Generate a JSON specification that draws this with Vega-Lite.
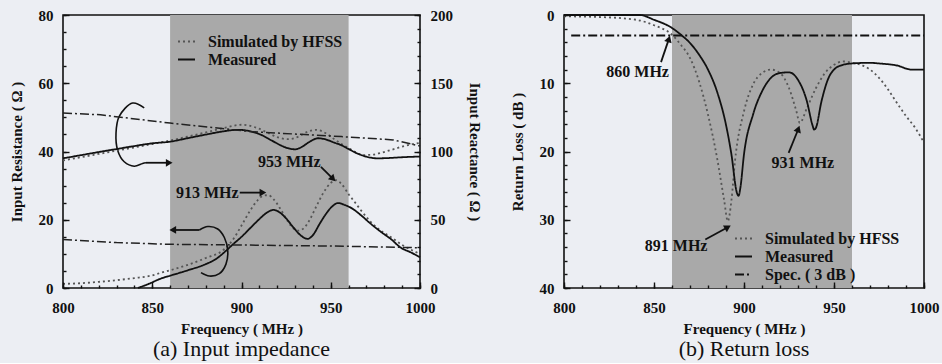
{
  "$schema": "https://vega.github.io/schema/vega-lite/v6.json",
  "background": "#ECEEF3",
  "padding": {"left": 8, "top": 7, "right": 5, "bottom": 2},
  "bounds": "flush",
  "spacing": 144,
  "resolve": {"scale": {"color": "independent", "strokeDash": "independent"}, "legend": {"color": "independent", "strokeDash": "independent"}},
  "config": {
    "view": {"stroke": "#111", "strokeWidth": 1.6},
    "font": "Liberation Serif",
    "axis": {
      "labelFont": "Liberation Serif", "labelFontWeight": "bold", "labelFontSize": 15, "labelColor": "#111",
      "titleFont": "Liberation Serif", "titleFontWeight": "bold", "titleFontSize": 15, "titleColor": "#111",
      "domain": false, "tickColor": "#111", "tickWidth": 1.4, "tickOpacity": 1,
      "grid": false, "labelFlush": false, "labelOverlap": false
    },
    "legend": {
      "labelFont": "Liberation Serif", "labelFontWeight": "bold", "labelFontSize": 16, "labelColor": "#111",
      "symbolType": "stroke", "symbolStrokeWidth": 2, "padding": 0, "rowPadding": 0, "labelOffset": 12
    }
  },
  "datasets": {
    "res": [
      {"f":800,"R":1.2,"s":"Simulated by HFSS"},{"f":810,"R":1.4,"s":"Simulated by HFSS"},{"f":820,"R":1.8,"s":"Simulated by HFSS"},{"f":830,"R":2.3,"s":"Simulated by HFSS"},{"f":840,"R":2.9,"s":"Simulated by HFSS"},{"f":850,"R":3.7,"s":"Simulated by HFSS"},{"f":855,"R":4.5,"s":"Simulated by HFSS"},{"f":860,"R":5.2,"s":"Simulated by HFSS"},{"f":870,"R":6.8,"s":"Simulated by HFSS"},{"f":880,"R":8.8,"s":"Simulated by HFSS"},{"f":890,"R":11.2,"s":"Simulated by HFSS"},{"f":895,"R":14.0,"s":"Simulated by HFSS"},{"f":900,"R":18.3,"s":"Simulated by HFSS"},{"f":905,"R":22.8,"s":"Simulated by HFSS"},{"f":909,"R":25.7,"s":"Simulated by HFSS"},{"f":912,"R":27.0,"s":"Simulated by HFSS"},{"f":915,"R":27.2,"s":"Simulated by HFSS"},{"f":918,"R":26.0,"s":"Simulated by HFSS"},{"f":922,"R":23.0,"s":"Simulated by HFSS"},{"f":926,"R":19.5,"s":"Simulated by HFSS"},{"f":929,"R":17.5,"s":"Simulated by HFSS"},{"f":932,"R":16.8,"s":"Simulated by HFSS"},{"f":935,"R":17.6,"s":"Simulated by HFSS"},{"f":938,"R":19.8,"s":"Simulated by HFSS"},{"f":942,"R":24.0,"s":"Simulated by HFSS"},{"f":946,"R":28.0,"s":"Simulated by HFSS"},{"f":950,"R":30.8,"s":"Simulated by HFSS"},{"f":953,"R":31.6,"s":"Simulated by HFSS"},{"f":956,"R":30.5,"s":"Simulated by HFSS"},{"f":960,"R":27.5,"s":"Simulated by HFSS"},{"f":964,"R":24.8,"s":"Simulated by HFSS"},{"f":967,"R":22.7,"s":"Simulated by HFSS"},{"f":972,"R":19.6,"s":"Simulated by HFSS"},{"f":977,"R":17.2,"s":"Simulated by HFSS"},{"f":984,"R":14.8,"s":"Simulated by HFSS"},{"f":990,"R":12.6,"s":"Simulated by HFSS"},{"f":995,"R":11.2,"s":"Simulated by HFSS"},{"f":1000,"R":10.0,"s":"Simulated by HFSS"},
      {"f":842,"R":0.0,"s":"Measured"},{"f":848,"R":1.2,"s":"Measured"},{"f":855,"R":2.8,"s":"Measured"},{"f":860,"R":3.6,"s":"Measured"},{"f":870,"R":5.2,"s":"Measured"},{"f":880,"R":7.0,"s":"Measured"},{"f":886,"R":8.6,"s":"Measured"},{"f":890,"R":10.3,"s":"Measured"},{"f":895,"R":12.7,"s":"Measured"},{"f":900,"R":15.0,"s":"Measured"},{"f":905,"R":17.6,"s":"Measured"},{"f":910,"R":20.2,"s":"Measured"},{"f":914,"R":22.0,"s":"Measured"},{"f":918,"R":22.9,"s":"Measured"},{"f":921,"R":22.3,"s":"Measured"},{"f":925,"R":20.4,"s":"Measured"},{"f":929,"R":17.8,"s":"Measured"},{"f":933,"R":15.5,"s":"Measured"},{"f":937,"R":14.4,"s":"Measured"},{"f":940,"R":15.5,"s":"Measured"},{"f":944,"R":19.0,"s":"Measured"},{"f":948,"R":22.2,"s":"Measured"},{"f":951,"R":24.0,"s":"Measured"},{"f":954,"R":24.9,"s":"Measured"},{"f":958,"R":24.3,"s":"Measured"},{"f":962,"R":23.3,"s":"Measured"},{"f":967,"R":21.3,"s":"Measured"},{"f":972,"R":19.0,"s":"Measured"},{"f":978,"R":16.5,"s":"Measured"},{"f":984,"R":14.2,"s":"Measured"},{"f":989,"R":11.9,"s":"Measured"},{"f":995,"R":10.4,"s":"Measured"},{"f":1000,"R":9.0,"s":"Measured"}
    ],
    "rea": [
      {"f":800,"X":93.5,"s":"Simulated by HFSS"},{"f":810,"X":95.8,"s":"Simulated by HFSS"},{"f":820,"X":98.2,"s":"Simulated by HFSS"},{"f":830,"X":100.6,"s":"Simulated by HFSS"},{"f":840,"X":103.0,"s":"Simulated by HFSS"},{"f":850,"X":105.5,"s":"Simulated by HFSS"},{"f":860,"X":108.0,"s":"Simulated by HFSS"},{"f":870,"X":111.0,"s":"Simulated by HFSS"},{"f":880,"X":114.0,"s":"Simulated by HFSS"},{"f":890,"X":117.2,"s":"Simulated by HFSS"},{"f":900,"X":119.6,"s":"Simulated by HFSS"},{"f":909,"X":117.1,"s":"Simulated by HFSS"},{"f":915,"X":113.5,"s":"Simulated by HFSS"},{"f":920,"X":110.5,"s":"Simulated by HFSS"},{"f":926,"X":109.0,"s":"Simulated by HFSS"},{"f":932,"X":111.0,"s":"Simulated by HFSS"},{"f":937,"X":114.5,"s":"Simulated by HFSS"},{"f":942,"X":115.9,"s":"Simulated by HFSS"},{"f":947,"X":113.5,"s":"Simulated by HFSS"},{"f":952,"X":109.0,"s":"Simulated by HFSS"},{"f":956,"X":105.5,"s":"Simulated by HFSS"},{"f":960,"X":102.4,"s":"Simulated by HFSS"},{"f":964,"X":99.5,"s":"Simulated by HFSS"},{"f":968,"X":97.4,"s":"Simulated by HFSS"},{"f":973,"X":97.6,"s":"Simulated by HFSS"},{"f":978,"X":99.0,"s":"Simulated by HFSS"},{"f":984,"X":101.2,"s":"Simulated by HFSS"},{"f":990,"X":103.6,"s":"Simulated by HFSS"},{"f":995,"X":105.2,"s":"Simulated by HFSS"},{"f":1000,"X":106.3,"s":"Simulated by HFSS"},
      {"f":800,"X":95.0,"s":"Measured"},{"f":810,"X":97.3,"s":"Measured"},{"f":820,"X":99.6,"s":"Measured"},{"f":830,"X":101.8,"s":"Measured"},{"f":840,"X":104.0,"s":"Measured"},{"f":850,"X":106.0,"s":"Measured"},{"f":860,"X":107.2,"s":"Measured"},{"f":870,"X":109.8,"s":"Measured"},{"f":880,"X":112.4,"s":"Measured"},{"f":890,"X":114.8,"s":"Measured"},{"f":898,"X":115.9,"s":"Measured"},{"f":905,"X":114.8,"s":"Measured"},{"f":911,"X":112.2,"s":"Measured"},{"f":917,"X":108.0,"s":"Measured"},{"f":922,"X":104.5,"s":"Measured"},{"f":926,"X":102.4,"s":"Measured"},{"f":930,"X":101.6,"s":"Measured"},{"f":934,"X":103.5,"s":"Measured"},{"f":938,"X":107.0,"s":"Measured"},{"f":943,"X":109.7,"s":"Measured"},{"f":948,"X":108.5,"s":"Measured"},{"f":952,"X":106.5,"s":"Measured"},{"f":956,"X":104.6,"s":"Measured"},{"f":960,"X":101.8,"s":"Measured"},{"f":965,"X":98.5,"s":"Measured"},{"f":970,"X":96.2,"s":"Measured"},{"f":976,"X":95.0,"s":"Measured"},{"f":982,"X":95.2,"s":"Measured"},{"f":990,"X":95.8,"s":"Measured"},{"f":1000,"X":96.3,"s":"Measured"}
    ],
    "ddres": [{"f":800,"R":14.2},{"f":830,"R":13.3},{"f":860,"R":12.8},{"f":900,"R":12.6},{"f":950,"R":12.3},{"f":1000,"R":11.8}],
    "ddrea": [{"f":800,"X":128.2},{"f":821,"X":126.9},{"f":860,"X":120.8},{"f":905,"X":114.6},{"f":956,"X":110.9},{"f":985,"X":108.5},{"f":1000,"X":104.0}],
    "loops": [
      {"loop":"a","i":1,"f":845.5,"R":52.8},{"loop":"a","i":2,"f":839.0,"R":54.2},{"loop":"a","i":3,"f":831.5,"R":50.3},{"loop":"a","i":4,"f":829.7,"R":45.4},{"loop":"a","i":5,"f":830.6,"R":40.4},{"loop":"a","i":6,"f":834.3,"R":37.0},{"loop":"a","i":7,"f":839.9,"R":35.7},{"loop":"a","i":8,"f":844.6,"R":36.5},{"loop":"a","i":9,"f":846.5,"R":36.7},
      {"loop":"b","i":1,"f":876.4,"R":17.0},{"loop":"b","i":2,"f":881.1,"R":18.0},{"loop":"b","i":3,"f":886.7,"R":17.3},{"loop":"b","i":4,"f":890.4,"R":14.8},{"loop":"b","i":5,"f":892.3,"R":10.9},{"loop":"b","i":6,"f":891.3,"R":7.0},{"loop":"b","i":7,"f":887.6,"R":4.2},{"loop":"b","i":8,"f":882.0,"R":3.5},{"loop":"b","i":9,"f":877.3,"R":4.5}
    ],
    "arrL": [
      {"id":"up","f":846.5,"R":36.7,"f2":859.5,"R2":36.7},
      {"id":"lo","f":876.4,"R":17.0,"f2":861.5,"R2":17.0},
      {"id":"a913","f":899.0,"R":27.95,"f2":912.0,"R2":27.95},
      {"id":"a953","f":944.5,"R":35.5,"f2":951.3,"R2":32.0}
    ],
    "headsL": [{"id":"up","f":859.5,"R":36.7},{"id":"lo","f":861.5,"R":17.0},{"id":"a913","f":912.0,"R":27.95},{"id":"a953","f":951.3,"R":32.0}],
    "txtL": [{"f":880.8,"R":27.95,"t":"913 MHz"},{"f":926.8,"R":37.0,"t":"953 MHz"}],
    "rl": [
      {"f":800,"RL":0.2,"s":"Simulated by HFSS"},{"f":820,"RL":0.3,"s":"Simulated by HFSS"},{"f":840,"RL":0.7,"s":"Simulated by HFSS"},{"f":850,"RL":1.5,"s":"Simulated by HFSS"},{"f":860,"RL":2.9,"s":"Simulated by HFSS"},{"f":865,"RL":4.4,"s":"Simulated by HFSS"},{"f":870,"RL":6.3,"s":"Simulated by HFSS"},{"f":875,"RL":9.7,"s":"Simulated by HFSS"},{"f":880,"RL":14.6,"s":"Simulated by HFSS"},{"f":885,"RL":20.9,"s":"Simulated by HFSS"},{"f":889,"RL":27.2,"s":"Simulated by HFSS"},{"f":891,"RL":30.2,"s":"Simulated by HFSS"},{"f":893,"RL":27.2,"s":"Simulated by HFSS"},{"f":895,"RL":21.4,"s":"Simulated by HFSS"},{"f":900,"RL":14.1,"s":"Simulated by HFSS"},{"f":905,"RL":10.2,"s":"Simulated by HFSS"},{"f":910,"RL":8.5,"s":"Simulated by HFSS"},{"f":915,"RL":8.0,"s":"Simulated by HFSS"},{"f":920,"RL":8.5,"s":"Simulated by HFSS"},{"f":925,"RL":10.7,"s":"Simulated by HFSS"},{"f":929,"RL":14.0,"s":"Simulated by HFSS"},{"f":931,"RL":15.8,"s":"Simulated by HFSS"},{"f":935,"RL":13.6,"s":"Simulated by HFSS"},{"f":940,"RL":10.7,"s":"Simulated by HFSS"},{"f":945,"RL":8.5,"s":"Simulated by HFSS"},{"f":950,"RL":7.3,"s":"Simulated by HFSS"},{"f":955,"RL":6.8,"s":"Simulated by HFSS"},{"f":960,"RL":7.0,"s":"Simulated by HFSS"},{"f":965,"RL":7.3,"s":"Simulated by HFSS"},{"f":970,"RL":8.0,"s":"Simulated by HFSS"},{"f":975,"RL":9.2,"s":"Simulated by HFSS"},{"f":980,"RL":10.9,"s":"Simulated by HFSS"},{"f":985,"RL":12.9,"s":"Simulated by HFSS"},{"f":990,"RL":14.8,"s":"Simulated by HFSS"},{"f":995,"RL":16.5,"s":"Simulated by HFSS"},{"f":1000,"RL":18.7,"s":"Simulated by HFSS"},
      {"f":800,"RL":0.0,"s":"Measured"},{"f":842,"RL":0.0,"s":"Measured"},{"f":850,"RL":0.7,"s":"Measured"},{"f":860,"RL":1.9,"s":"Measured"},{"f":865,"RL":2.9,"s":"Measured"},{"f":870,"RL":4.1,"s":"Measured"},{"f":875,"RL":5.8,"s":"Measured"},{"f":880,"RL":8.0,"s":"Measured"},{"f":885,"RL":11.2,"s":"Measured"},{"f":890,"RL":16.1,"s":"Measured"},{"f":893,"RL":20.4,"s":"Measured"},{"f":896,"RL":26.0,"s":"Measured"},{"f":897,"RL":26.5,"s":"Measured"},{"f":898,"RL":25.3,"s":"Measured"},{"f":900,"RL":20.4,"s":"Measured"},{"f":905,"RL":14.6,"s":"Measured"},{"f":910,"RL":11.2,"s":"Measured"},{"f":915,"RL":9.2,"s":"Measured"},{"f":920,"RL":8.5,"s":"Measured"},{"f":925,"RL":8.4,"s":"Measured"},{"f":930,"RL":9.5,"s":"Measured"},{"f":935,"RL":12.7,"s":"Measured"},{"f":938,"RL":16.1,"s":"Measured"},{"f":939,"RL":16.8,"s":"Measured"},{"f":940,"RL":16.5,"s":"Measured"},{"f":943,"RL":12.7,"s":"Measured"},{"f":947,"RL":9.2,"s":"Measured"},{"f":950,"RL":8.0,"s":"Measured"},{"f":955,"RL":7.3,"s":"Measured"},{"f":960,"RL":7.1,"s":"Measured"},{"f":970,"RL":7.0,"s":"Measured"},{"f":975,"RL":7.1,"s":"Measured"},{"f":985,"RL":7.4,"s":"Measured"},{"f":993,"RL":8.0,"s":"Measured"},{"f":1000,"RL":8.0,"s":"Measured"},
      {"f":804,"RL":3.0,"s":"Spec. ( 3 dB )"},{"f":1000,"RL":3.0,"s":"Spec. ( 3 dB )"}
    ],
    "arrR": [
      {"id":"a860","f":853.9,"RL":6.9,"f2":858.3,"RL2":3.5},
      {"id":"a891","f":878.5,"RL":32.9,"f2":891.0,"RL2":31.1},
      {"id":"a931","f":924.8,"RL":20.2,"f2":930.2,"RL2":16.7}
    ],
    "headsR": [{"id":"a860","f":858.3,"RL":3.5},{"id":"a891","f":891.0,"RL":31.1},{"id":"a931","f":930.2,"RL":16.7}],
    "txtR": [{"f":840.9,"RL":8.3,"t":"860 MHz"},{"f":862.3,"RL":33.9,"t":"891 MHz"},{"f":932.7,"RL":21.7,"t":"931 MHz"}]
  },
  "hconcat": [
    {
      "width": 357,
      "height": 273,
      "title": {"text": "(a) Input impedance", "orient": "bottom", "anchor": "middle", "font": "Liberation Serif", "fontSize": 22, "fontWeight": "normal", "color": "#111", "offset": 3},
      "resolve": {"scale": {"y": "independent"}, "axis": {"x": "independent"}},
      "layer": [
        {
          "data": {"values": [{"f": 860, "f2": 960}]},
          "mark": {"type": "rect", "color": "#A9A9A9"},
          "encoding": {"x": {"field": "f", "type": "quantitative", "scale": {"domain": [800, 1000]}, "axis": null}, "x2": {"field": "f2"}}
        },
        {
          "encoding": {
            "x": {"field": "f", "type": "quantitative", "scale": {"domain": [800, 1000]},
              "axis": {"title": "Frequency ( MHz )", "format": "d", "values": [800, 850, 900, 950, 1000], "labelOverlap": false, "labelFlush": false,
                "ticks": true, "offset": -6, "tickSize": 6, "labelPadding": 12, "titlePadding": 6, "zindex": 1}},
            "y": {"field": "R", "type": "quantitative", "scale": {"domain": [0, 80]},
              "axis": {"orient": "left", "title": "Input Resistance ( Ω )", "values": [0, 20, 40, 60, 80], "labelOverlap": false,
                "ticks": true, "offset": -6, "tickSize": 6, "labelPadding": 10, "titlePadding": 14, "zindex": 1}}
          },
          "resolve": {"axis": {"y": "independent"}},
          "layer": [
            {
              "layer": [
                {
                  "data": {"name": "res"},
                  "mark": {"type": "line", "interpolate": "monotone", "strokeWidth": 1.8},
                  "encoding": {
                    "color": {"field": "s", "type": "nominal", "scale": {"domain": ["Simulated by HFSS", "Measured"], "range": ["#555555", "#111111"]},
                      "legend": {"title": null, "orient": "none", "legendX": 114, "legendY": 17, "symbolSize": 289}},
                    "strokeDash": {"field": "s", "type": "nominal", "scale": {"domain": ["Simulated by HFSS", "Measured"], "range": [[2, 3], [1, 0]]},
                      "legend": {"title": null, "orient": "none", "legendX": 114, "legendY": 17, "symbolSize": 289}}
                  }
                },
                {
                  "data": {"name": "loops"},
                  "mark": {"type": "line", "color": "#111", "strokeWidth": 1.6, "interpolate": "catmull-rom"},
                  "encoding": {"detail": {"field": "loop"}, "order": {"field": "i", "type": "quantitative"}}
                },
                {
                  "data": {"name": "arrL"},
                  "mark": {"type": "rule", "color": "#111", "strokeWidth": 1.8},
                  "encoding": {"x2": {"field": "f2"}, "y2": {"field": "R2"}}
                },
                {
                  "data": {"name": "headsL"},
                  "transform": [{"filter": "datum.id === 'up' || datum.id === 'a913'"}],
                  "mark": {"type": "point", "shape": "triangle-right", "filled": true, "color": "#111", "opacity": 1, "size": 60}
                },
                {
                  "data": {"name": "headsL"},
                  "transform": [{"filter": "datum.id === 'lo'"}],
                  "mark": {"type": "point", "shape": "triangle-left", "filled": true, "color": "#111", "opacity": 1, "size": 60}
                },
                {
                  "data": {"name": "headsL"},
                  "transform": [{"filter": "datum.id === 'a953'"}],
                  "mark": {"type": "point", "shape": "triangle-right", "angle": 45, "filled": true, "color": "#111", "opacity": 1, "size": 60}
                },
                {
                  "data": {"name": "txtL"},
                  "mark": {"type": "text", "font": "Liberation Serif", "fontWeight": "bold", "fontSize": 16, "color": "#111", "align": "center", "baseline": "middle"},
                  "encoding": {"text": {"field": "t"}}
                }
              ]
            },
            {
              "data": {"name": "ddres"},
              "mark": {"type": "line", "color": "#222", "strokeWidth": 1.5, "strokeDash": [9, 3, 2, 3]},
              "encoding": {
                "y": {"field": "R", "type": "quantitative",
                  "axis": {"orient": "left", "title": null, "values": [0,5,10,15,20,25,30,35,40,45,50,55,60,65,70,75,80], "labels": false,
                    "ticks": true, "offset": -3, "tickSize": 3, "zindex": 1}}
              }
            }
          ]
        },
        {
          "encoding": {
            "x": {"field": "f", "type": "quantitative", "scale": {"domain": [800, 1000]},
              "axis": {"orient": "bottom", "title": null, "values": [800,810,820,830,840,850,860,870,880,890,900,910,920,930,940,950,960,970,980,990,1000], "labels": false,
                "ticks": true, "offset": -3, "tickSize": 3, "zindex": 1}},
            "y": {"field": "X", "type": "quantitative", "scale": {"domain": [0, 200]},
              "axis": {"orient": "right", "title": "Input Reactance ( Ω )", "titleAngle": 90, "values": [0, 50, 100, 150, 200], "labelOverlap": false,
                "ticks": true, "offset": -6, "tickSize": 6, "labelPadding": 10, "titlePadding": 14, "zindex": 1}}
          },
          "resolve": {"axis": {"y": "independent"}},
          "layer": [
            {
              "data": {"name": "rea"},
              "mark": {"type": "line", "interpolate": "monotone", "strokeWidth": 1.8},
              "encoding": {
                "color": {"field": "s", "type": "nominal"},
                "strokeDash": {"field": "s", "type": "nominal"}
              }
            },
            {
              "data": {"name": "ddrea"},
              "mark": {"type": "line", "color": "#222", "strokeWidth": 1.5, "strokeDash": [9, 3, 2, 3]},
              "encoding": {
                "y": {"field": "X", "type": "quantitative",
                  "axis": {"orient": "right", "title": null, "values": [0,10,20,30,40,50,60,70,80,90,100,110,120,130,140,150,160,170,180,190,200], "labels": false,
                    "ticks": true, "offset": -3, "tickSize": 3, "zindex": 1}}
              }
            }
          ]
        }
      ]
    },
    {
      "width": 360,
      "height": 273,
      "title": {"text": "(b) Return loss", "orient": "bottom", "anchor": "middle", "font": "Liberation Serif", "fontSize": 22, "fontWeight": "normal", "color": "#111", "offset": 3},
      "resolve": {"axis": {"x": "independent", "y": "independent"}},
      "layer": [
        {
          "data": {"values": [{"f": 860, "f2": 960}]},
          "mark": {"type": "rect", "color": "#A9A9A9"},
          "encoding": {"x": {"field": "f", "type": "quantitative", "scale": {"domain": [800, 1000]}, "axis": null}, "x2": {"field": "f2"}}
        },
        {
          "encoding": {
            "x": {"field": "f", "type": "quantitative", "scale": {"domain": [800, 1000]},
              "axis": {"title": "Frequency ( MHz )", "format": "d", "values": [800, 850, 900, 950, 1000], "labelOverlap": false, "labelFlush": false,
                "ticks": true, "offset": -6, "tickSize": 6, "labelPadding": 12, "titlePadding": 6, "zindex": 1}},
            "y": {"field": "RL", "type": "quantitative", "scale": {"domain": [0, 40], "reverse": true},
              "axis": {"orient": "left", "title": "Return Loss ( dB )", "values": [0, 10, 20, 30, 40], "labelOverlap": false,
                "ticks": true, "offset": -6, "tickSize": 6, "labelPadding": 10, "titlePadding": 14, "zindex": 1}}
          },
          "layer": [
            {
              "data": {"name": "rl"},
              "mark": {"type": "line", "interpolate": "monotone", "strokeWidth": 1.8},
              "encoding": {
                "color": {"field": "s", "type": "nominal", "scale": {"domain": ["Simulated by HFSS", "Measured", "Spec. ( 3 dB )"], "range": ["#555555", "#111111", "#111111"]},
                  "legend": {"title": null, "orient": "none", "legendX": 170, "legendY": 214, "symbolSize": 289}},
                "strokeDash": {"field": "s", "type": "nominal", "scale": {"domain": ["Simulated by HFSS", "Measured", "Spec. ( 3 dB )"], "range": [[2, 3], [1, 0], [9, 3, 2, 3]]},
                  "legend": {"title": null, "orient": "none", "legendX": 170, "legendY": 214, "symbolSize": 289}}
              }
            },
            {
              "data": {"name": "headsR"},
              "transform": [{"filter": "datum.id === 'a860'"}],
              "mark": {"type": "point", "shape": "triangle-right", "angle": -72, "filled": true, "color": "#111", "opacity": 1, "size": 60}
            },
            {
              "data": {"name": "headsR"},
              "transform": [{"filter": "datum.id === 'a891'"}],
              "mark": {"type": "point", "shape": "triangle-right", "angle": -30, "filled": true, "color": "#111", "opacity": 1, "size": 60}
            },
            {
              "data": {"name": "headsR"},
              "transform": [{"filter": "datum.id === 'a931'"}],
              "mark": {"type": "point", "shape": "triangle-right", "angle": -70, "filled": true, "color": "#111", "opacity": 1, "size": 60}
            },
            {
              "data": {"name": "txtR"},
              "mark": {"type": "text", "font": "Liberation Serif", "fontWeight": "bold", "fontSize": 16, "color": "#111", "align": "center", "baseline": "middle"},
              "encoding": {"text": {"field": "t"}}
            }
          ]
        },
        {
          "data": {"name": "arrR"},
          "mark": {"type": "rule", "color": "#111", "strokeWidth": 1.8},
          "encoding": {
            "x": {"field": "f", "type": "quantitative", "scale": {"domain": [800, 1000]},
              "axis": {"orient": "bottom", "title": null, "values": [800,810,820,830,840,850,860,870,880,890,900,910,920,930,940,950,960,970,980,990,1000], "labels": false,
                "ticks": true, "offset": -3, "tickSize": 3, "zindex": 1}},
            "y": {"field": "RL", "type": "quantitative",
              "axis": {"orient": "left", "title": null, "values": [0,2,4,6,8,10,12,14,16,18,20,22,24,26,28,30,32,34,36,38,40], "labels": false,
                "ticks": true, "offset": -3, "tickSize": 3, "zindex": 1}},
            "x2": {"field": "f2"},
            "y2": {"field": "RL2"}
          }
        }
      ]
    }
  ]
}
